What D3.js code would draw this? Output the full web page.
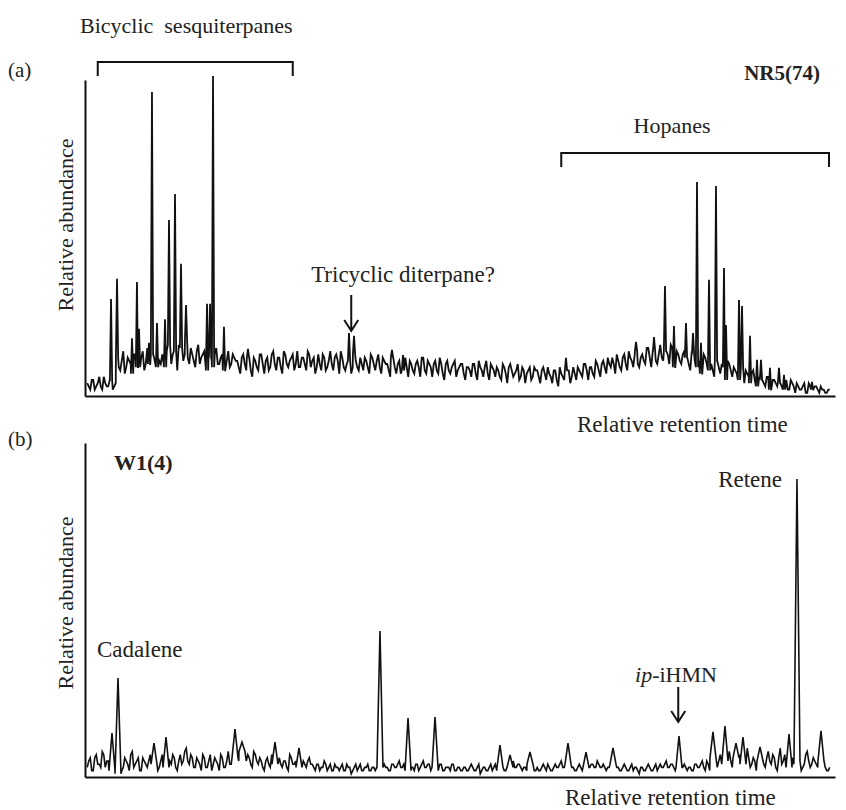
<!DOCTYPE html>
<html><head><meta charset="utf-8">
<script src="https://cdn.jsdelivr.net/npm/d3@7"></script>
<style>body{margin:0;background:#fff}text{font-family:"Liberation Serif","Times New Roman",serif;fill:#222;white-space:pre}</style>
</head><body><svg id="c" width="846" height="810"></svg>
<script>
// ---- Data (relative retention time 0-100, relative abundance 0-100) ----
const sampleStep = 0.4, sampleStart = 0.3, sampleOffset = 0.2;
// panel (a) NR5(74) baseline noise, sampled every 0.4 time units, plus a second set offset by 0.2
const noiseA = [
4,2,5,3,6,2,4,3,5,3,12,8,14,9,11,7,13,9,12,8,15,10,13,9,11,
13,9,16,10,14,8,15,11,17,10,13,9,16,12,14,8,12,9,15,10,13,8,14,10,12,
11,7,13,8,12,6,11,8,13,7,12,9,14,8,12,7,13,9,12,8,14,9,12,8,13,
11,7,13,8,12,9,14,8,13,7,12,8,11,7,13,9,12,8,11,7,12,8,13,7,11,
10,6,12,7,11,8,12,6,10,7,11,6,12,7,10,6,11,7,10,5,11,7,10,6,9,
10,5,9,6,10,5,9,6,11,5,9,6,8,5,9,4,10,6,8,5,9,4,8,5,9,
8,4,9,5,7,4,8,3,7,5,8,4,9,5,8,6,10,5,9,6,10,6,11,7,10,
12,7,11,8,13,8,12,9,14,9,13,10,15,9,14,10,16,11,14,10,15,9,13,10,14,
12,8,13,9,11,7,12,8,10,6,11,7,9,5,10,6,8,5,9,4,7,4,8,3,6,
5,3,6,2,5,3,4,2,5,2,4,1,3,2,4,1,3,2,3,1,2,1,2];
const noiseA2 = [
3,5,2,4,3,6,3,5,2,4,9,11,7,12,10,13,8,11,14,10,9,13,11,12,10,
10,14,11,13,12,16,9,13,12,15,11,14,10,13,9,15,11,13,10,12,14,11,9,13,11,
9,12,10,14,8,12,9,13,10,11,8,13,10,12,9,14,10,11,13,10,9,12,10,14,9,
12,9,10,13,8,11,10,12,11,14,9,10,13,9,11,8,10,12,9,13,10,11,9,12,10,
8,11,9,10,7,12,9,11,8,10,9,12,8,11,9,10,8,12,7,10,8,9,11,8,10,
7,9,8,10,7,11,8,9,7,10,8,9,6,10,7,9,8,7,10,6,8,7,9,6,8,
6,8,7,9,6,8,5,9,6,7,8,6,7,9,7,10,8,9,7,11,8,10,9,12,9,
10,13,9,12,10,14,11,13,10,12,11,15,12,14,11,13,12,15,13,16,12,14,11,13,12,
10,14,11,12,9,13,10,11,8,12,9,10,7,11,8,9,7,10,6,8,6,7,5,8,5,
4,6,3,5,4,6,3,4,2,5,3,4,2,3,1,4,2,3,2,3,2,1,2];
const peakTimesA = [3.47,4.27,6.27,6.93,7.2,8.53,8.93,9.6,10.67,11.2,12.0,12.8,13.47,16.27,16.67,17.07,18.53,21.73,
35.2,35.87,40.93,42.4,64.13,73.47,75.87,77.33,78.53,80.13,81.07,81.6,82.13,83.2,84.13,85.2,85.47,87.2,87.6,88.67,89.6,90.13,91.33,92.53,93.2,96.93];
const peakHeightsA = [30.3,36.6,18,35.6,21,16.6,95,22.8,24,55,63.1,41.3,28.4,28.8,28.8,100,21.6,14.7,
19.7,18.8,14.4,12.8,11.9,16.9,18.4,34.4,21.9,22.8,19.7,66.9,16.6,36.3,65.6,40,22.2,30,28.1,18.8,11.3,11.3,8.8,8.8,6.6,4.4];
// panel (b) W1(4)
const noiseB = [
3,6,2,7,4,8,3,5,2,6,1,7,3,5,2,8,4,6,2,5,3,7,4,6,3,
7,3,8,4,6,2,7,5,9,4,6,3,5,2,6,3,7,4,5,2,6,3,8,4,6,
7,4,8,5,6,3,7,4,5,2,6,3,7,4,6,3,5,2,6,4,7,3,5,3,6,
4,2,4,3,5,2,4,2,3,2,4,2,3,1,3,2,4,2,3,2,3,2,4,3,4,
3,2,4,3,5,3,4,2,3,2,4,3,5,3,4,2,3,2,4,2,3,2,4,2,3,
2,3,2,4,2,3,1,3,2,3,2,4,2,3,2,4,3,5,3,4,2,3,2,4,2,
3,2,4,2,3,2,4,3,5,3,4,2,3,2,4,2,3,2,4,3,5,3,4,2,3,
4,2,3,2,4,2,3,2,3,1,3,2,4,2,3,2,4,3,5,3,4,2,3,2,4,
2,3,2,4,3,5,2,4,1,6,3,7,2,5,8,3,6,2,7,4,9,3,6,2,5,
7,3,8,4,6,2,9,5,7,3,6,1,5,2,4,8,3,6,4,7,5,3,2];
const noiseB2 = [
5,2,6,4,3,7,5,6,4,3,5,2,6,4,7,3,5,2,6,4,5,3,6,2,5,
4,6,5,7,3,5,4,8,5,7,3,6,4,7,3,5,2,6,4,7,3,5,4,6,5,
5,6,3,7,4,8,5,6,3,5,4,7,3,6,4,5,3,7,4,5,2,6,4,5,4,
3,4,2,3,4,3,2,4,3,3,2,4,3,2,4,3,2,3,4,2,3,3,2,4,3,
2,4,3,4,3,4,2,3,3,4,2,4,3,4,2,3,3,4,2,3,3,4,2,3,2,
3,2,3,3,2,4,2,3,2,4,3,2,3,4,2,3,4,3,4,3,3,2,3,3,2,
2,3,3,4,2,3,3,4,3,4,3,3,2,3,3,2,3,3,4,3,4,3,3,3,2,
3,3,2,3,3,2,4,3,2,3,2,3,3,2,4,3,3,4,3,4,3,3,2,3,3,
3,2,4,3,4,3,5,2,4,3,5,4,6,3,5,6,4,7,5,3,6,4,5,3,6,
4,6,5,7,3,6,4,7,5,8,4,3,6,3,7,5,4,5,3,6,4,2,3];
const peakTimesB = [3.6,4.4,9.2,10.8,20.0,20.93,25.33,28.53,39.33,43.07,46.67,55.33,56.67,59.33,64.4,66.8,70.4,79.2,83.73,85.33,86.8,87.73,90.0,93.87,94.93,98.13];
const peakHeightsB = [13.75,30.9,10.6,12.5,15,10.9,10.9,9.1,45.6,18.4,18.75,10,6.9,7.8,10.6,7.8,9.1,12.8,14.1,15.9,10.6,12.5,9.4,13.4,93.1,14.4];

// ---- Drawing ----
const svg = d3.select("#c");
function panel(cfg){
  const x = d3.scaleLinear().domain([0,100]).range([85,835]);
  const y = d3.scaleLinear().domain([0,100]).range([cfg.bottom, cfg.bottom-320]);
  const g = svg.append("g");
  let pts = cfg.noise.map((v,i)=>({t:sampleStart+i*sampleStep, v}))
    .concat(cfg.noise2.map((v,i)=>({t:sampleStart+sampleOffset+i*sampleStep, v})));
  const base = t => { const i = Math.max(0, Math.min(cfg.noise.length-1, Math.round((t-sampleStart)/sampleStep))); return cfg.noise[i]; };
  pts = pts.filter(p => !cfg.times.some(t => Math.abs(p.t - t) < cfg.hw));
  cfg.times.forEach((t,k)=>{
    const b = Math.min(base(t), cfg.heights[k]);
    pts.push({t:t-cfg.hw, v:b},{t:t, v:cfg.heights[k]},{t:t+cfg.hw, v:b});
  });
  pts.sort((a,b)=>a.t-b.t);
  const line = d3.line().x(d=>x(d.t)).y(d=>y(d.v));
  g.append("path").datum(pts).attr("d",line).attr("fill","none").attr("stroke","#111").attr("stroke-width",cfg.sw);
  const ax = g.append("g").attr("transform",`translate(0,${cfg.bottom})`).call(d3.axisBottom(x).tickValues([]).tickSizeOuter(0));
  const ay = g.append("g").attr("transform",`translate(85,0)`).call(d3.axisLeft(d3.scaleLinear().range([cfg.bottom,cfg.top])).tickValues([]).tickSizeOuter(0));
  [ax,ay].forEach(a=>a.select(".domain").attr("stroke","#111").attr("stroke-width",2));
  return {x,y,g};
}
const A = panel({noise:noiseA,noise2:noiseA2,times:peakTimesA,heights:peakHeightsA,bottom:396,top:80,hw:0.15,sw:1.8});
const B = panel({noise:noiseB,noise2:noiseB2,times:peakTimesB,heights:peakHeightsB,bottom:777,top:443,hw:0.4,sw:1.6});

function txt(x,y,s,opt={}){
  const t = svg.append("text").attr("x",x).attr("y",y).attr("font-size",opt.size||23).text(s);
  if(opt.anchor) t.attr("text-anchor",opt.anchor);
  if(opt.bold) t.attr("font-weight","bold");
  if(opt.rotate) t.attr("transform",`rotate(-90,${x},${y})`);
  return t;
}
function bracket(x1,x2,yTop,yBot){
  svg.append("path").attr("d",`M${x1},${yBot}V${yTop}H${x2}V${yBot}`).attr("fill","none").attr("stroke","#111").attr("stroke-width",2);
}
function arrow(x,y1,y2){
  svg.append("path").attr("d",`M${x},${y1}V${y2}M${x-7},${y2-11}L${x},${y2}L${x+7},${y2-11}`).attr("fill","none").attr("stroke","#111").attr("stroke-width",2);
}
// panel (a) labels
txt(8,77,"(a)",{size:21});
txt(80,33,"Bicyclic  sesquiterpanes",{size:22});
bracket(A.x(1.7),A.x(27.7),62,76);
txt(820,80,"NR5(74)",{bold:true,size:21,anchor:"end"});
txt(672,133,"Hopanes",{anchor:"middle",size:22});
bracket(A.x(63.5),A.x(99.2),153,167);
txt(403,282,"Tricyclic diterpane?",{anchor:"middle"});
arrow(A.x(35.5),295,331);
txt(577,432,"Relative retention time");
txt(73,225,"Relative abundance",{anchor:"middle",rotate:true,size:22});
// panel (b) labels
txt(8,446,"(b)",{size:21});
txt(114,470,"W1(4)",{bold:true,size:22});
txt(97,657,"Cadalene");
txt(782,487,"Retene",{anchor:"end"});
const ip = txt(676,682,"",{anchor:"middle",size:22});
ip.append("tspan").attr("font-style","italic").text("ip");
ip.append("tspan").text("-iHMN");
arrow(B.x(79.1),687,722);
txt(565,805,"Relative retention time");
txt(73,603,"Relative abundance",{anchor:"middle",rotate:true,size:22});
</script></body></html>
